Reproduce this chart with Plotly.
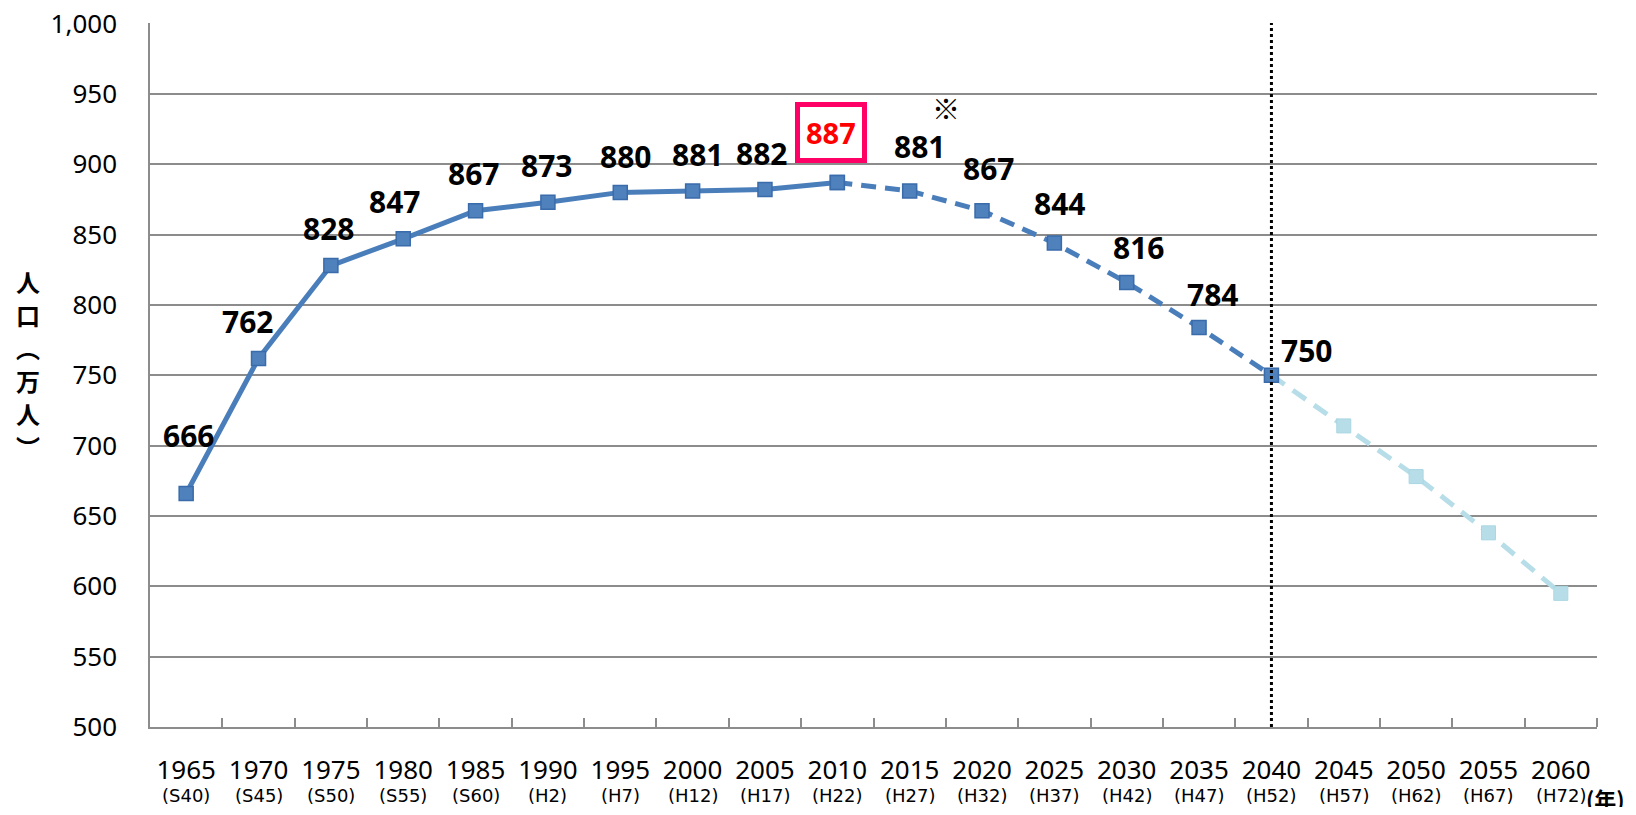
import plotly.graph_objects as go

# ---- data ----
years = ["1965", "1970", "1975", "1980", "1985", "1990", "1995", "2000", "2005", "2010",
         "2015", "2020", "2025", "2030", "2035", "2040", "2045", "2050", "2055", "2060"]
eras = ["S40", "S45", "S50", "S55", "S60", "H2", "H7", "H12", "H17", "H22",
        "H27", "H32", "H37", "H42", "H47", "H52", "H57", "H62", "H67", "H72"]
population = [666, 762, 828, 847, 867, 873, 880, 881, 882, 887,
              881, 867, 844, 816, 784, 750, 714, 678, 638, 595]
labelled_count = 16          # values with a data label (1965-2040)
actual_end = 9               # index of 2010 (last actual value)
projection_end = 15          # index of 2040
highlight_index = 9          # 887 (2010)
y_ticks = [500, 550, 600, 650, 700, 750, 800, 850, 900, 950, 1000]
y_title_chars = ["人", "口", "︵", "万", "人", "︶"]   # 人口（万人） written vertically

# label offsets in pixels (style only)
label_dx = [2, -11, -2, -9, -2, -1, 5, 5, -3, -6, 10, 6, 5, 12, 13, 35]
label_dy = [58, 37, 37, 37, 37, 37, 36, 36, 36, 50, 44, 42, 40, 35, 33, 25]

pos = list(range(len(years)))   # category slots on the x axis

DARK = "#4A7EBB"
DARK_MK = "#4F81BD"
DARK_MK_LINE = "#3A6BAA"
LIGHT = "#B7DEE8"

# figure sized to fit inside the page's default 8px body margin
W, H = 1620, 799
ml, mr, mt, mb = 142, 31, 15, 80
pw, ph = W - ml - mr, H - mt - mb


def paper_x(fx):
    return (fx - ml) / pw


def paper_y(fy):
    return (H - mb - fy) / ph


fig = go.Figure()

# light projection (2040-2060)
fig.add_trace(go.Scatter(
    x=pos[projection_end:], y=population[projection_end:],
    mode="lines", line=dict(color=LIGHT, width=5, dash="16px,10px"),
    hoverinfo="skip", showlegend=False))
fig.add_trace(go.Scatter(
    x=pos[projection_end + 1:], y=population[projection_end + 1:],
    mode="markers", marker=dict(symbol="square", size=14, color=LIGHT,
                                line=dict(color="#A9D6E2", width=1)),
    showlegend=False))

# dashed dark projection (2010-2040)
fig.add_trace(go.Scatter(
    x=pos[actual_end:projection_end + 1], y=population[actual_end:projection_end + 1],
    mode="lines+markers", line=dict(color=DARK, width=5, dash="15px,9px"),
    marker=dict(symbol="square", size=14, color=DARK_MK, line=dict(color=DARK_MK_LINE, width=1.5)),
    showlegend=False))

# solid actual (1965-2010)
fig.add_trace(go.Scatter(
    x=pos[:actual_end + 1], y=population[:actual_end + 1],
    mode="lines+markers", line=dict(color=DARK, width=5),
    marker=dict(symbol="square", size=14, color=DARK_MK, line=dict(color=DARK_MK_LINE, width=1.5)),
    showlegend=False))

annotations = []
for i in range(labelled_count):
    if i == highlight_index:
        annotations.append(dict(
            x=pos[i], y=population[i], text=f"<b>{population[i]}</b>", showarrow=False,
            xshift=label_dx[i], yshift=label_dy[i], yanchor="middle",
            font=dict(family="Noto Sans", size=29, color="#FF0000"),
            bgcolor="white", bordercolor="#FF0066", borderwidth=5, borderpad=6))
    else:
        annotations.append(dict(
            x=pos[i], y=population[i], text=f"<b>{population[i]}</b>", showarrow=False,
            xshift=label_dx[i], yshift=label_dy[i], yanchor="middle",
            font=dict(family="Noto Sans", size=30, color="black")))

# era sub-labels
for p, era in zip(pos, eras):
    annotations.append(dict(
        x=p, y=0, yref="paper", text=f"({era})", showarrow=False,
        yanchor="middle", yshift=-68,
        font=dict(family="DejaVu Sans", size=18, color="black")))

# ※ mark (between 2015 and 2020)
annotations.append(dict(
    x=10.5, y=paper_y(100), yref="paper", text="※", showarrow=False,
    yanchor="middle",
    font=dict(family="Noto Sans CJK JP", size=28, color="black")))

# y-axis title (vertical, one character per line)
title_top = 273
for k, ch in enumerate(y_title_chars):
    annotations.append(dict(
        x=paper_x(20), y=paper_y(title_top + 33 * k), xref="paper", yref="paper",
        xanchor="center", yanchor="middle", text=f"<b>{ch}</b>", showarrow=False,
        font=dict(family="Noto Sans CJK JP", size=24, color="black")))

# (年)
annotations.append(dict(
    x=paper_x(1619), y=paper_y(790), xref="paper", yref="paper", text="<b>(年)</b>",
    showarrow=False, xanchor="right", yanchor="middle",
    font=dict(family="Noto Sans CJK JP", size=22, color="black")))

fig.update_layout(
    width=W, height=H,
    margin=dict(l=ml, r=mr, t=mt, b=mb, autoexpand=False),
    paper_bgcolor="white", plot_bgcolor="white",
    font=dict(family="Noto Sans, Noto Sans CJK JP", color="black"),
    annotations=annotations,
    shapes=[dict(type="line", x0=pos[projection_end], x1=pos[projection_end], y0=0, y1=1,
                 xref="x", yref="paper",
                 line=dict(color="black", width=3, dash="dot"), layer="above")],
)

fig.update_xaxes(
    range=[-0.5, len(years) - 0.5],
    tickvals=pos, ticktext=years, ticks="",
    minor=dict(tickvals=[p + 0.5 for p in pos], ticks="inside", ticklen=9,
               tickwidth=1.5, tickcolor="#8c8c8c", showgrid=False),
    showline=True, linecolor="#8c8c8c", linewidth=1.5, showgrid=False, zeroline=False,
    tickfont=dict(family="Noto Sans", size=26, color="black"),
    ticklabelstandoff=19, ticklabeloverflow="allow", automargin=False, fixedrange=True)

fig.update_yaxes(
    range=[500, 1000.4], tickvals=y_ticks, tickformat=",",
    showline=True, linecolor="#8c8c8c", linewidth=1.5,
    showgrid=True, gridcolor="#8c8c8c", gridwidth=1.5, zeroline=False,
    tickfont=dict(family="Noto Sans", size=26, color="black"),
    ticklabelstandoff=26, ticklabeloverflow="allow", automargin=False, fixedrange=True)

fig.write_html("out.html")
